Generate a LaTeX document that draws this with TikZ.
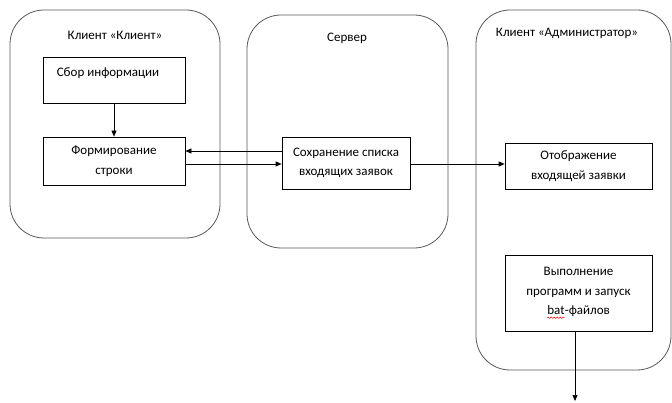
\documentclass[tikz,border=0pt]{standalone}
\usepackage{fontspec}
\setmainfont{Carlito}
\usetikzlibrary{arrows.meta,decorations.pathmorphing}
\newcommand{\spellmark}[1]{\tikz[baseline=(sw.base),x=1pt,y=1pt]{\node[inner sep=0pt,outer sep=0pt,anchor=base,minimum width=0pt,minimum height=0pt,draw=none,align=left] (sw) {#1};
  \draw[red,line width=0.5pt,decorate,decoration={snake,amplitude=0.7pt,segment length=3pt}] ([yshift=-3pt]sw.base west) -- ([yshift=-3pt]sw.base east);}}
\begin{document}
\begin{tikzpicture}[x=1pt,y=-1pt,
  container/.style={draw=black!65,line width=0.8pt,rounded corners=34pt,inner sep=0pt},
  pbox/.style={draw=black,line width=0.7pt,inner sep=0pt,align=center,font=\fontsize{13}{19.5}\selectfont},
  ttl/.style={inner sep=0pt,font=\fontsize{13}{15}\selectfont},
  arr/.style={-{Triangle[length=6pt,width=5pt]},line width=0.7pt}]
\useasboundingbox (0,0) rectangle (672,403);
% containers
\node[container,minimum width=210pt,minimum height=228pt] (cl) at (115,124) {};
\node[container,minimum width=201pt,minimum height=233pt] (srv) at (347.5,131.5) {};
\node[container,minimum width=195pt,minimum height=360pt] (adm) at (573.5,190) {};
% titles
\node[ttl] (tcl) at (115,35) {Клиент «Клиент»};
\node[ttl] (tsrv) at (347,38) {Сервер};
\node[ttl] (tadm) at (567,33) {Клиент «Администратор»};
% boxes
\node[pbox,minimum width=142pt,minimum height=46pt] (sbor) at (114,80) {};
\node[ttl] (sbort) at (108,73) {Сбор информации};
\node[pbox,minimum width=142pt,minimum height=48pt] (form) at (114,161) {Формирование\\строки};
\node[pbox,minimum width=128pt,minimum height=52pt] (save) at (346,163) {Сохранение списка\\входящих заявок};
\node[pbox,minimum width=147pt,minimum height=46pt] (show) at (578.5,166) {Отображение\\входящей заявки};
\node[pbox,minimum width=147pt,minimum height=76pt] (exec) at (578.5,293) {Выполнение\\программ и запуск\\\spellmark{bat}-файлов};
\coordinate (endp) at (575,401);
% connectors
\draw[arr] (sbor.south) -- (form.north);
\draw[arr] (save.west |- 0,151) -- (form.east |- 0,151);
\draw[arr] (form.east |- 0,164) -- (save.west |- 0,164);
\draw[arr] (save.east |- 0,164) -- (show.west |- 0,164);
\draw[arr] (exec.south -| endp) -- (endp);
\end{tikzpicture}
\end{document}
